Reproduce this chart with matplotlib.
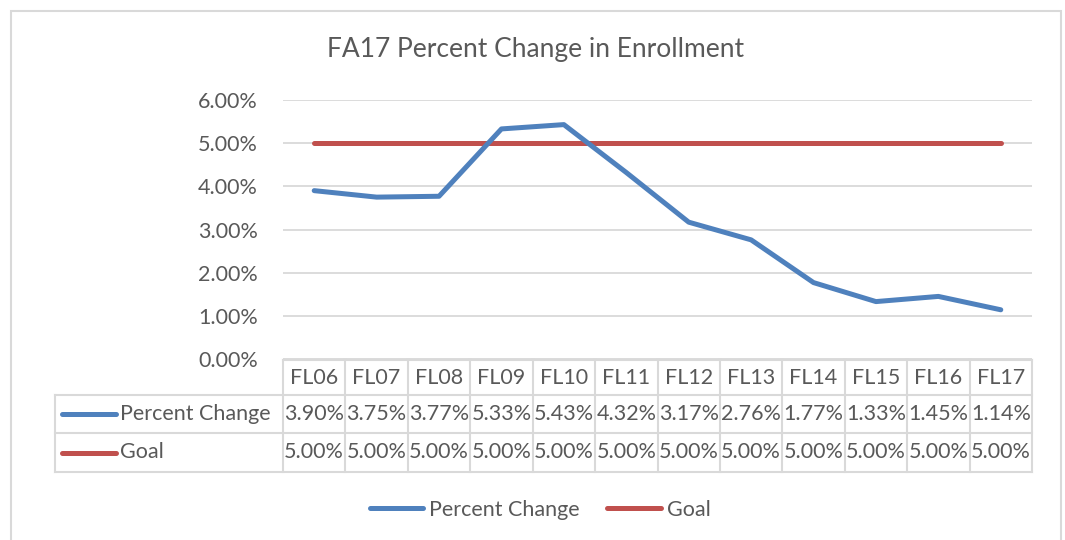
import matplotlib.pyplot as plt
from matplotlib.lines import Line2D
from matplotlib.patches import Rectangle
import matplotlib.transforms as mtransforms
from matplotlib.ticker import FuncFormatter

# Данные
years = ['FL06', 'FL07', 'FL08', 'FL09', 'FL10', 'FL11', 'FL12', 'FL13', 'FL14', 'FL15', 'FL16', 'FL17']
percent_change = [3.90, 3.75, 3.77, 5.33, 5.43, 4.32, 3.17, 2.76, 1.77, 1.33, 1.45, 1.14]
goal = [5.00] * 12
series_names = ['Percent Change', 'Goal']

blue = '#4F81BD'
red = '#C0504D'
text_col = '#595959'
grid_col = '#D9D9D9'
fs = 15.5

plt.rcParams['font.family'] = ['Lato', 'DejaVu Sans']

W, H = 1065, 540
fig = plt.figure(figsize=(W / 100, H / 100), dpi=100)

# рамка вокруг диаграммы
fig.add_artist(Rectangle((11 / W, -0.05), 1050 / W, (H - 11) / H + 0.05,
                         transform=fig.transFigure, fill=False, edgecolor=grid_col, lw=1.5))

x0, x1, y_top, y_bot = 283, 1032, 100, 359
ax = fig.add_axes([x0 / W, (H - y_bot) / H, (x1 - x0) / W, (y_bot - y_top) / H])

x = list(range(len(years)))
ax.plot(x, goal, color=red, lw=3.6, solid_capstyle='round', zorder=3)
ax.plot(x, percent_change, color=blue, lw=3.6, solid_capstyle='round', zorder=4)

ax.set_xlim(-0.5, len(years) - 0.5)
ax.set_ylim(0, 6)
ax.set_yticks([0, 1, 2, 3, 4, 5, 6])
ax.yaxis.set_major_formatter(FuncFormatter(lambda v, p: f'{v:.2f}%'))
ax.tick_params(axis='y', length=0, pad=18, labelsize=fs, labelcolor=text_col)
ax.set_xticks([])
ax.grid(axis='y', color=grid_col, lw=1.3)
ax.set_axisbelow(True)
for s in ax.spines.values():
    s.set_visible(False)

fig.text(536 / W, (H - 49) / H, 'FA17 Percent Change in Enrollment', ha='center', va='center',
         fontsize=19, color=text_col)

# Таблица данных под осью
trans = mtransforms.blended_transform_factory(ax.transData, ax.transAxes)
ph = y_bot - y_top
def ya(py):
    return (y_bot - py) / ph

rows_y = [360, 395, 433, 472]
n = len(years)
unit = (x1 - x0) / n
left_x = -0.5 - (x0 - 55) / unit
lines = [
    ([-0.5, n - 0.5], [ya(rows_y[0])] * 2),
    ([left_x, n - 0.5], [ya(rows_y[1])] * 2),
    ([left_x, n - 0.5], [ya(rows_y[2])] * 2),
    ([left_x, n - 0.5], [ya(rows_y[3])] * 2),
    ([left_x, left_x], [ya(rows_y[1]), ya(rows_y[3])]),
]
for i in range(n + 1):
    lines.append(([i - 0.5, i - 0.5], [ya(rows_y[0]), ya(rows_y[3])]))
for lx, ly in lines:
    ax.add_line(Line2D(lx, ly, transform=trans, color=grid_col, lw=1.5, clip_on=False))

for i, yr in enumerate(years):
    ax.text(i, ya((rows_y[0] + rows_y[1]) / 2), yr, transform=trans, ha='center', va='center',
            fontsize=fs, color=text_col)
    ax.text(i, ya((rows_y[1] + rows_y[2]) / 2), f'{percent_change[i]:.2f}%', transform=trans,
            ha='center', va='center', fontsize=fs, color=text_col)
    ax.text(i, ya((rows_y[2] + rows_y[3]) / 2), f'{goal[i]:.2f}%', transform=trans,
            ha='center', va='center', fontsize=fs, color=text_col)

for k, (name, col) in enumerate(zip(series_names, [blue, red])):
    yc = ya((rows_y[k + 1] + rows_y[k + 2]) / 2)
    ax.add_line(Line2D([-0.5 - (x0 - 62) / unit, -0.5 - (x0 - 116) / unit], [yc, yc], transform=trans,
                       color=col, lw=3.6, solid_capstyle='round', clip_on=False))
    ax.text(-0.5 - (x0 - 120) / unit, yc, name, transform=trans, ha='left', va='center',
            fontsize=fs, color=text_col)

# Легенда внизу
handles = [Line2D([], [], color=blue, lw=3.6, solid_capstyle='round'),
           Line2D([], [], color=red, lw=3.6, solid_capstyle='round')]
leg = fig.legend(handles, series_names, loc='center', bbox_to_anchor=(540 / W, 30 / H), ncol=2,
                 frameon=False, fontsize=fs, handlelength=2.5, handletextpad=0.25, columnspacing=1.3)
for t in leg.get_texts():
    t.set_color(text_col)

fig.savefig('out.png', dpi=100)
